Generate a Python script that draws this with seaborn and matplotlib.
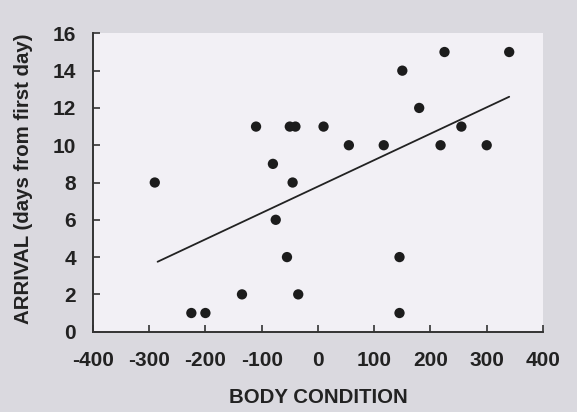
import matplotlib
matplotlib.use('Agg')
import matplotlib.pyplot as plt
import seaborn as sns
import pandas as pd

# Body condition vs arrival day
body_condition = [-290, -225, -200, -135, -110, -80, -75, -55, -50, -45, -40, -35,
                  10, 55, 117, 145, 145, 150, 180, 218, 225, 255, 300, 340]
arrival_day = [8, 1, 1, 2, 11, 9, 6, 4, 11, 8, 11, 2,
               11, 10, 10, 4, 1, 14, 12, 10, 15, 11, 10, 15]

# Fitted line end points as drawn in the figure
fit_x = [-285, 340]
fit_y = [3.75, 12.6]

x_ticks = [-400, -300, -200, -100, 0, 100, 200, 300, 400]
y_ticks = [0, 2, 4, 6, 8, 10, 12, 14, 16]

data = pd.DataFrame({'body': body_condition, 'arrival': arrival_day})
fit = pd.DataFrame({'body': fit_x, 'arrival': fit_y})

sns.set_style('ticks')
plt.rcParams['font.family'] = ['Liberation Sans', 'DejaVu Sans']
plt.rcParams['font.weight'] = 'bold'

fig = plt.figure(figsize=(5.77, 4.12), dpi=100, facecolor='#dad9df')
ax = fig.add_axes([0.161, 0.195, 0.780, 0.724])
ax.set_facecolor('#f2f0f5')

sns.scatterplot(data=data, x='body', y='arrival', ax=ax, color='#1c1c1c',
                s=55, edgecolor='none', zorder=3)
sns.lineplot(data=fit, x='body', y='arrival', ax=ax, color='#222222',
             linewidth=1.3)

ax.set_xlim(-400, 400)
ax.set_ylim(0, 16)
ax.set_xticks(x_ticks)
ax.set_yticks(y_ticks)
ax.set_xticklabels([str(v) for v in x_ticks], fontsize=15, fontweight='bold')
ax.set_yticklabels([str(v) for v in y_ticks], fontsize=15, fontweight='bold')
ax.tick_params(direction='in', length=5, width=1.2, color='#333333',
               labelcolor='#222222')
ax.tick_params(axis='x', pad=14)
ax.tick_params(axis='y', pad=12)

for side in ['top', 'right']:
    ax.spines[side].set_visible(False)
for side in ['left', 'bottom']:
    ax.spines[side].set_linewidth(1.4)
    ax.spines[side].set_color('#333333')

ax.set_xlabel('BODY CONDITION', fontsize=14.7, fontweight='bold', color='#222222')
ax.set_ylabel('ARRIVAL (days from first day)', fontsize=14.7, fontweight='bold',
              color='#222222')
ax.xaxis.set_label_coords(0.5, -0.189)
ax.yaxis.set_label_coords(-0.133, 0.512)

plt.savefig('out.png', dpi=100, facecolor=fig.get_facecolor())
